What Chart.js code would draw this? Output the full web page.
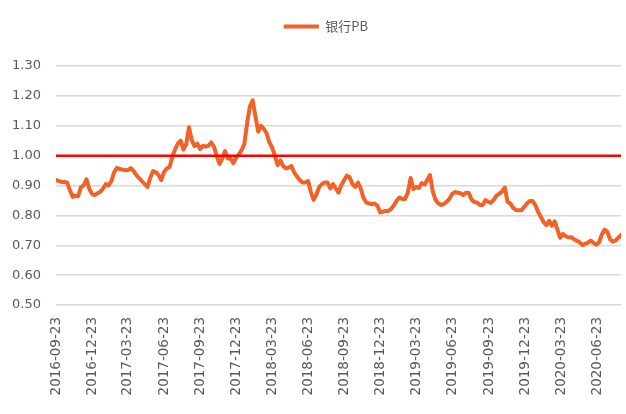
<!DOCTYPE html>
<html>
<head>
<meta charset="utf-8">
<script src="https://cdn.jsdelivr.net/npm/chart.js@4/dist/chart.umd.min.js"></script>
<style>
  html, body { margin: 0; padding: 0; background: #fff; }
  #wrap { position: relative; width: 626px; height: 414px; }
</style>
</head>
<body>
<div id="wrap"><canvas id="pbChart"></canvas></div>
<script>
// weekly readings, first one on startDate
const startDate = '2016-09-23';
const seriesName = '银行PB';
const refLevel = 1.0;
const quarterLabels = [
    '2016-09-23', '2016-12-23', '2017-03-23', '2017-06-23', '2017-09-23', '2017-12-23',
    '2018-03-23', '2018-06-23', '2018-09-23', '2018-12-23', '2019-03-23', '2019-06-23',
    '2019-09-23', '2019-12-23', '2020-03-23', '2020-06-23'
];
const pbValues = [
    0.918, 0.915, 0.912, 0.912, 0.910, 0.885, 0.862, 0.866, 0.864, 0.895,
    0.900, 0.921, 0.889, 0.872, 0.868, 0.874, 0.879, 0.890, 0.905, 0.900,
    0.915, 0.945, 0.959, 0.955, 0.953, 0.951, 0.952, 0.958, 0.949, 0.935,
    0.925, 0.915, 0.905, 0.895, 0.925, 0.948, 0.945, 0.935, 0.918, 0.945,
    0.957, 0.962, 0.996, 1.022, 1.040, 1.050, 1.020, 1.038, 1.095, 1.052,
    1.032, 1.040, 1.022, 1.033, 1.030, 1.033, 1.044, 1.030, 1.000, 0.972,
    0.990, 1.015, 0.990, 0.990, 0.975, 0.993, 1.005, 1.018, 1.040, 1.110,
    1.165, 1.185, 1.130, 1.080, 1.100, 1.090, 1.075, 1.045, 1.028, 1.000,
    0.968, 0.984, 0.965, 0.957, 0.960, 0.965, 0.943, 0.930, 0.918, 0.910,
    0.910, 0.915, 0.878, 0.852, 0.870, 0.895, 0.905, 0.910, 0.910, 0.890,
    0.905, 0.890, 0.876, 0.902, 0.918, 0.933, 0.928, 0.905, 0.895, 0.910,
    0.890, 0.858, 0.843, 0.840, 0.837, 0.840, 0.832, 0.810, 0.812, 0.815,
    0.815, 0.822, 0.834, 0.850, 0.860, 0.855, 0.855, 0.876, 0.925, 0.888,
    0.895, 0.892, 0.908, 0.903, 0.918, 0.935, 0.880, 0.852, 0.840, 0.835,
    0.838, 0.845, 0.855, 0.872, 0.878, 0.876, 0.874, 0.868, 0.876, 0.875,
    0.853, 0.845, 0.843, 0.835, 0.835, 0.851, 0.845, 0.842, 0.852, 0.866,
    0.872, 0.880, 0.893, 0.845, 0.840, 0.825, 0.818, 0.817, 0.817, 0.828,
    0.840, 0.848, 0.848, 0.835, 0.812, 0.795, 0.778, 0.767, 0.782, 0.765,
    0.780, 0.752, 0.725, 0.738, 0.730, 0.726, 0.727, 0.720, 0.715, 0.710,
    0.700, 0.705, 0.708, 0.716, 0.708, 0.702, 0.710, 0.735, 0.752, 0.745,
    0.720, 0.712, 0.716, 0.725, 0.735
];

const WEEK = 7 * 24 * 3600 * 1000;
const weekOf = d => (Date.parse(d) - Date.parse(startDate)) / WEEK;
const lastIdx = pbValues.length - 1;
const textGrey = '#595959';

// shift the legend a little to the right, like the original
const nudgeLegend = {
    id: 'nudgeLegend',
    afterLayout(chart) {
        chart.legend.left += 13;
        chart.legend.right += 13;
    }
};

const ctx = document.getElementById('pbChart').getContext('2d');
new Chart(ctx, {
    type: 'line',
    data: {
        datasets: [{
            label: seriesName,
            data: pbValues.map((v, i) => ({ x: i, y: v })),
            borderColor: '#F26125',
            backgroundColor: '#F26125',
            borderWidth: 4,
            borderJoinStyle: 'round',
            borderCapStyle: 'round',
            pointRadius: 0,
            tension: 0,
            order: 1
        }, {
            label: 'ref',
            data: [{ x: 0, y: refLevel }, { x: lastIdx, y: refLevel }],
            borderColor: '#FF0000',
            borderWidth: 2.5,
            pointRadius: 0,
            order: 0
        }]
    },
    options: {
        responsive: true,
        maintainAspectRatio: false,
        animation: false,
        layout: { padding: { top: 10, left: 0, right: 0, bottom: 0 } },
        plugins: {
            legend: {
                position: 'top',
                labels: {
                    filter: item => item.text === seriesName,
                    usePointStyle: true,
                    pointStyle: 'line',
                    pointStyleWidth: 35,
                    color: textGrey,
                    padding: 10,
                    font: { family: '"Noto Sans CJK SC", "Noto Sans", sans-serif', size: 13 }
                }
            },
            subtitle: {
                display: true,
                text: '',
                weight: 500,
                font: { size: 10 },
                padding: { top: 0, bottom: 11 }
            },
            tooltip: { enabled: false }
        },
        scales: {
            x: {
                type: 'linear',
                min: 0,
                max: lastIdx,
                grid: { display: false, drawTicks: false },
                border: { display: false },
                afterBuildTicks: scale => {
                    scale.ticks = quarterLabels.map(d => ({ value: weekOf(d) }));
                },
                afterFit: scale => { scale.height = 109; },
                ticks: {
                    autoSkip: false,
                    minRotation: 90,
                    maxRotation: 90,
                    padding: 12,
                    color: textGrey,
                    font: { family: '"DejaVu Sans", sans-serif', size: 13.5 },
                    callback: (v, i) => quarterLabels[i]
                }
            },
            y: {
                min: 0.5,
                max: 1.3,
                grid: { color: '#D9D9D9', lineWidth: 1.5, drawTicks: false },
                border: { display: false },
                afterFit: scale => { scale.width = 56; },
                ticks: {
                    stepSize: 0.1,
                    padding: 15,
                    color: textGrey,
                    font: { family: '"DejaVu Sans", sans-serif', size: 13 },
                    callback: v => v.toFixed(2)
                }
            }
        }
    },
    plugins: [nudgeLegend]
});
</script>
</body>
</html>
